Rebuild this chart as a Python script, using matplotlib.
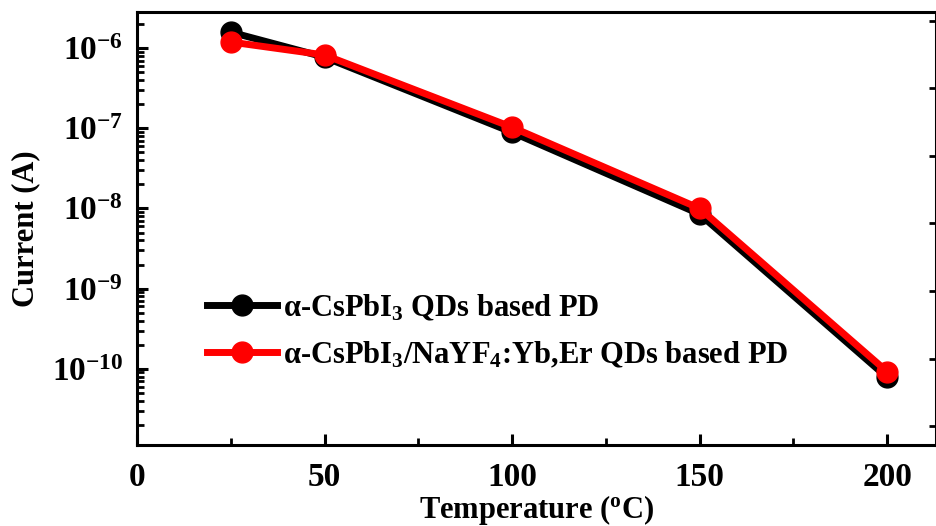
import matplotlib
matplotlib.use("Agg")
import matplotlib.pyplot as plt
from matplotlib.ticker import LogLocator, MultipleLocator, NullFormatter, NullLocator, LogFormatterSciNotation
from matplotlib.lines import Line2D

plt.rcParams['font.family'] = ['Liberation Serif', 'DejaVu Serif']
plt.rcParams['font.weight'] = 'bold'
plt.rcParams['mathtext.default'] = 'regular'
plt.rcParams['axes.unicode_minus'] = False
plt.rcParams['axes.linewidth'] = 2.2

temperature = [25, 50, 100, 150, 200]
current_cspbi3 = [1.58e-6, 7.7e-7, 8.9e-8, 8.5e-9, 7.8e-11]
current_upconv = [1.19e-6, 8.2e-7, 1.03e-7, 1.0e-8, 9.2e-11]
y_ticks = [1e-10, 1e-9, 1e-8, 1e-7, 1e-6]
x_ticks = [0, 50, 100, 150, 200]
labels = [r'α-CsPbI$_3$ QDs based PD',
          r'α-CsPbI$_3$/NaYF$_4$:Yb,Er QDs based PD']

fig = plt.figure(figsize=(9.37, 5.26), dpi=100)
ax = fig.add_axes([137/937, 1-445/526, (936-137)/937, (445-12)/526])

ax.plot(temperature, current_cspbi3, color='black', lw=5, marker='o', ms=15,
        mfc='black', mec='black', label=labels[0], zorder=3)
ax.plot(temperature, current_upconv, color='red', lw=5, marker='o', ms=15,
        mfc='red', mec='red', label=labels[1], zorder=4)

ax.set_yscale('log')
ax.set_xlim(0, 213)
ax.set_ylim(10**-10.95, 10**-5.55)
ax.set_yticks(y_ticks)
ax.yaxis.set_major_formatter(LogFormatterSciNotation())
ax.yaxis.set_minor_locator(LogLocator(base=10, subs=range(2, 10), numticks=20))
ax.yaxis.set_minor_formatter(NullFormatter())
ax.set_xticks(x_ticks)
ax.xaxis.set_minor_locator(MultipleLocator(25))

ax.tick_params(axis='both', which='major', direction='in', length=8, width=2.2,
               labelsize=24, pad=12)
ax.tick_params(axis='y', which='major', pad=10)
ax.tick_params(axis='both', which='minor', direction='in', length=5, width=2)
ax.tick_params(axis='y', which='both', right=False)
ax.tick_params(axis='x', which='both', top=False)
for lab in ax.get_xticklabels() + ax.get_yticklabels():
    lab.set_fontweight('bold')

ax2 = ax.twinx()
ax2.set_ylim(-0.28, 6.13)
ax2.yaxis.set_major_locator(MultipleLocator(1))
ax2.yaxis.set_minor_locator(NullLocator())
ax2.tick_params(axis='y', direction='in', length=5, width=2, labelright=False)
for s in ax2.spines.values():
    s.set_visible(False)

ax.set_xlabel('Temperature ($^{o}$C)', fontsize=22, fontweight='bold', labelpad=0)
ax.set_ylabel('Current (A)', fontsize=22, fontweight='bold', labelpad=8)

handles = [Line2D([], [], color='black', lw=5, marker='o', ms=15),
           Line2D([], [], color='red', lw=5, marker='o', ms=15)]
leg = ax.legend(handles, labels, loc='lower left', bbox_to_anchor=(0.072, 0.145),
                frameon=False, fontsize=22, handlelength=2.3, handletextpad=0.2,
                labelspacing=0.55, borderaxespad=0)
for t in leg.get_texts():
    t.set_fontweight('bold')

fig.savefig('out.png', dpi=100)
